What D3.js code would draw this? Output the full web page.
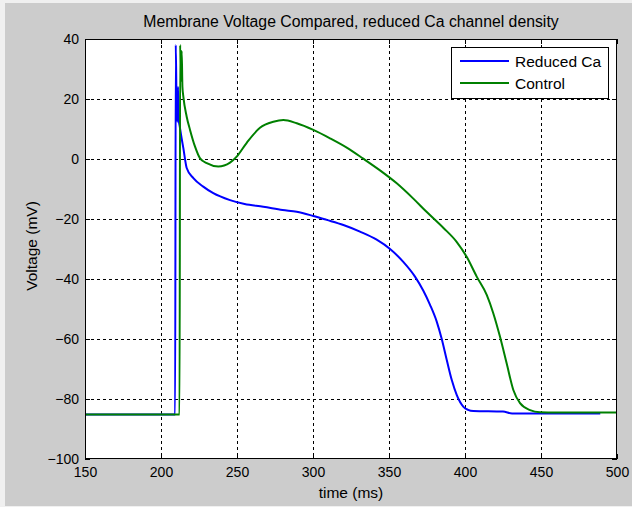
<!DOCTYPE html>
<html>
<head>
<meta charset="utf-8">
<script src="https://cdn.jsdelivr.net/npm/d3@7"></script>
<style>
  html, body { margin: 0; padding: 0; background: #f0f0f0; }
  svg { display: block; }
  text { font-family: "Liberation Sans", Arial, sans-serif; fill: #000; }
</style>
</head>
<body>
<svg id="chart" width="632" height="507"></svg>
<script>
// Membrane voltage traces (time in ms, voltage in mV)
const reducedTime = [150, 209.3, 209.7, 210.2, 210.7, 211.2, 211.7, 212.3, 213.2, 214.7, 216.9, 221.3, 227.8, 234.4, 245.4, 255, 267.3, 280, 289.3, 300.2, 309, 320, 330.9, 341.9, 350.7, 359.4, 367.1, 372.6, 377, 381.4, 384.7, 388, 391.3, 394.6, 399, 402, 405.5, 425, 431, 489];
const reducedVoltage = [-85.2, -85.2, 38, 20, 12.4, 24, 13, 11, 8, 3.6, -3, -6.4, -9.2, -11.4, -13.7, -15, -15.9, -17, -17.6, -19, -20.3, -22, -24.2, -26.9, -30.0, -34.3, -39.2, -43.9, -48.6, -54.2, -60.0, -67, -73.7, -78.7, -82.6, -83.6, -84, -84.2, -84.8, -84.8];

const controlTime = [150, 212.2, 212.6, 213.1, 213.6, 214.1, 214.7, 216.9, 219.1, 222.4, 225.7, 230.1, 237.7, 245.4, 249.8, 256.4, 265.1, 273.9, 280.5, 289.3, 300.2, 311.2, 322.2, 333.1, 344.1, 355.1, 366, 374.7, 385.7, 394.5, 401.1, 407.7, 414.3, 418.6, 423, 427.4, 431.8, 436.2, 442.8, 449.3, 460, 500];
const controlVoltage = [-85.2, -85.2, 38, 26, 36, 24, 20.8, 14.1, 9.7, 4.1, 0.2, -1.4, -2.5, -1.2, 0.8, 5.4, 10.4, 12.4, 13, 11.9, 9.7, 6.9, 3.8, 0.1, -3.8, -8.1, -13.2, -17.6, -22.9, -27.6, -32.6, -39.2, -45.3, -51.4, -59.2, -68.1, -77, -81.4, -83.7, -84.4, -84.5, -84.5];

const seriesNames = ["Reduced Ca", "Control"];
const seriesColors = ["#0000ff", "#008000"];

const xTicks = [150, 200, 250, 300, 350, 400, 450, 500];
const yTicks = [-100, -80, -60, -40, -20, 0, 20, 40];

const titleText = "Membrane Voltage Compared, reduced Ca channel density";
const xLabel = "time (ms)";
const yLabel = "Voltage (mV)";

const svg = d3.select("#chart");
const W = 632, H = 507;
const plot = { left: 85, right: 617, top: 39, bottom: 459 };

// figure background
svg.append("rect").attr("x", 5).attr("y", 3).attr("width", W - 5).attr("height", H - 4)
  .attr("fill", "#cccccc");

const x = d3.scaleLinear().domain([150, 500]).range([plot.left, plot.right]);
const y = d3.scaleLinear().domain([-100, 40]).range([plot.bottom, plot.top]);

// axes area
svg.append("rect")
  .attr("x", plot.left).attr("y", plot.top)
  .attr("width", plot.right - plot.left).attr("height", plot.bottom - plot.top)
  .attr("fill", "#ffffff");

svg.append("clipPath").attr("id", "plotClip").append("rect")
  .attr("x", plot.left).attr("y", plot.top)
  .attr("width", plot.right - plot.left).attr("height", plot.bottom - plot.top);

// dotted grid
const grid = svg.append("g").attr("stroke", "#000").attr("stroke-width", 1)
  .attr("stroke-dasharray", "3,3").attr("shape-rendering", "crispEdges");
grid.selectAll("line.gx").data(xTicks.slice(1, -1)).join("line")
  .attr("x1", d => Math.round(x(d)) + 0.5).attr("x2", d => Math.round(x(d)) + 0.5)
  .attr("y1", plot.top).attr("y2", plot.bottom);
grid.selectAll("line.gy").data(yTicks.slice(1, -1)).join("line")
  .attr("y1", d => Math.round(y(d)) + 0.5).attr("y2", d => Math.round(y(d)) + 0.5)
  .attr("x1", plot.left).attr("x2", plot.right);

// bottom / left axes with labels, ticks pointing inward
const xAxis = d3.axisBottom(x).tickValues(xTicks).tickSizeInner(-5).tickSizeOuter(0).tickPadding(8);
const yAxis = d3.axisLeft(y).tickValues(yTicks).tickSizeInner(-5).tickSizeOuter(0).tickPadding(9);

const gx = svg.append("g").attr("transform", `translate(0,${plot.bottom})`).call(xAxis);
const gy = svg.append("g").attr("transform", `translate(${plot.left},0)`).call(yAxis);
[gx, gy].forEach(g => {
  g.select(".domain").remove();
  g.selectAll("line").attr("stroke", "#000");
  g.selectAll("text").attr("font-size", 14).attr("font-family", "Liberation Sans, Arial, sans-serif").attr("fill", "#000");
});
gy.selectAll("text").attr("dx", 3);

// mirrored ticks on top / right
const gxTop = svg.append("g").attr("transform", `translate(0,${plot.top})`)
  .call(d3.axisTop(x).tickValues(xTicks).tickSizeInner(-5).tickSizeOuter(0).tickFormat(""));
const gyRight = svg.append("g").attr("transform", `translate(${plot.right},0)`)
  .call(d3.axisRight(y).tickValues(yTicks).tickSizeInner(-5).tickSizeOuter(0).tickFormat(""));
[gxTop, gyRight].forEach(g => { g.select(".domain").remove(); g.selectAll("line").attr("stroke", "#000"); });

// traces
const traces = [
  { name: seriesNames[0], color: seriesColors[0], pts: reducedTime.map((t, i) => [t, reducedVoltage[i]]) },
  { name: seriesNames[1], color: seriesColors[1], pts: controlTime.map((t, i) => [t, controlVoltage[i]]) }
];
const line = d3.line().x(d => x(d[0])).y(d => y(d[1])).curve(d3.curveMonotoneX);
svg.append("g").attr("clip-path", "url(#plotClip)")
  .selectAll("path").data(traces).join("path")
  .attr("d", d => line(d.pts))
  .attr("fill", "none")
  .attr("stroke", d => d.color)
  .attr("stroke-width", 2)
  .attr("stroke-linejoin", "round");

// axes box
svg.append("rect")
  .attr("x", plot.left + 0.5).attr("y", plot.top + 0.5)
  .attr("width", plot.right - plot.left - 1).attr("height", plot.bottom - plot.top - 1)
  .attr("fill", "none").attr("stroke", "#000").attr("stroke-width", 1);

// legend
const lg = svg.append("g");
lg.append("rect").attr("x", 451.5).attr("y", 47.5).attr("width", 157).attr("height", 51)
  .attr("fill", "#fff").attr("stroke", "#000").attr("stroke-width", 1);
traces.forEach((d, i) => {
  const ly = 61 + i * 22;
  lg.append("line").attr("x1", 460).attr("x2", 509).attr("y1", ly).attr("y2", ly)
    .attr("stroke", d.color).attr("stroke-width", 2);
  lg.append("text").attr("x", 515).attr("y", ly + 5.5).attr("font-size", 15.5).text(d.name);
});

// title and axis labels
svg.append("text").attr("x", (plot.left + plot.right) / 2).attr("y", 27)
  .attr("text-anchor", "middle").attr("font-size", 15.8).text(titleText);
svg.append("text").attr("x", (plot.left + plot.right) / 2).attr("y", 498)
  .attr("text-anchor", "middle").attr("font-size", 15.5).text(xLabel);
svg.append("text").attr("transform", `translate(37,246) rotate(-90)`)
  .attr("text-anchor", "middle").attr("font-size", 15.5).text(yLabel);
</script>
</body>
</html>
